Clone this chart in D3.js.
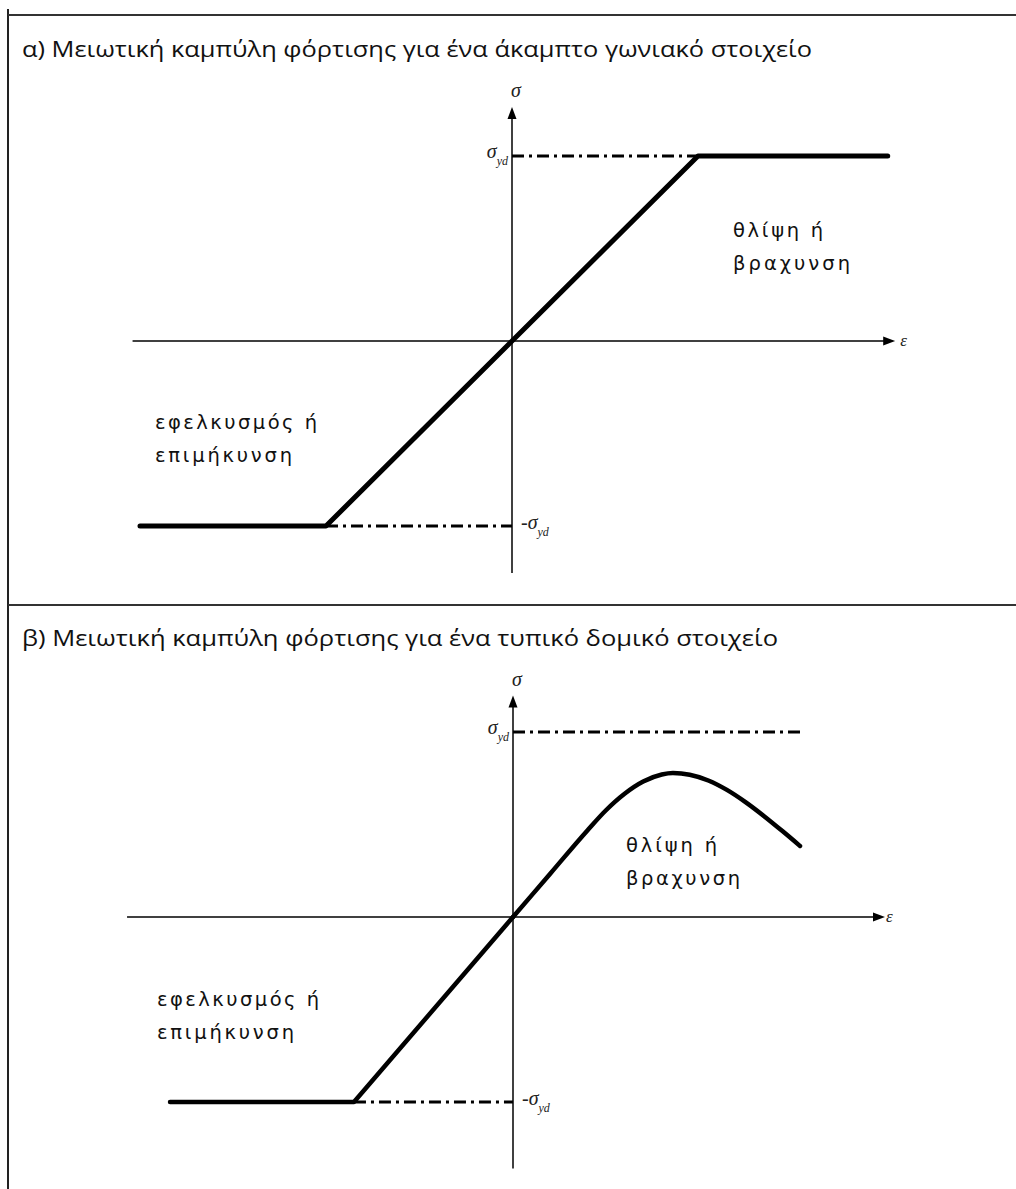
<!DOCTYPE html>
<html>
<head>
<meta charset="utf-8">
<script src="https://cdn.jsdelivr.net/npm/d3@7"></script>
<style>
  html, body { margin: 0; padding: 0; background: #fff; }
  svg { display: block; }
</style>
</head>
<body>
<svg id="fig" width="1016" height="1189"></svg>
<script>
// ---- Panel titles and region captions ----
const titles = [
  "α) Μειωτική καμπύλη φόρτισης για ένα άκαμπτο γωνιακό στοιχείο",
  "β) Μειωτική καμπύλη φόρτισης για ένα τυπικό δομικό στοιχείο"
];
const compressionLabel = ["θλίψη ή", "βραχυνση"];
const tensionLabel = ["εφελκυσμός ή", "επιμήκυνση"];

// ---- Panel (a): rigid corner element, elastic – perfectly plastic [ε/εyd, σ/σyd] ----
const curveA = [[-2.0, -1], [-1, -1], [0, 0], [1, 1], [2.02, 1]];
const epsAxisA = [-2.04, 2.06];
const sigAxisA = [-1.254, 1.265];
const yieldTopA = [0, 1];      // ε-span of the +σyd reference line
const yieldBotA = [-1, 0];     // ε-span of the −σyd reference line

// ---- Panel (b): typical structural element with buckling drop-off ----
const linearB = [[-1.844, -1], [-0.855, -1], [0, 0]];
const smoothB = [[0, 0], [0.2, 0.234], [0.4, 0.468], [0.5, 0.577], [0.6, 0.666], [0.7, 0.732],
                 [0.8, 0.77], [0.86, 0.778], [0.95, 0.769], [1.05, 0.738], [1.15, 0.687],
                 [1.25, 0.621], [1.35, 0.545], [1.45, 0.463], [1.543, 0.384]];
const epsAxisB = [-2.075, 2.0];
const sigAxisB = [-1.36, 1.197];
const yieldTopB = [0, 1.543];
const yieldBotB = [-0.855, 0];

const svg = d3.select("#fig");
const ink = "#000";
const dashDot = "12,5,3,5";

// frame: left rule, top rule and the divider between the two panels
svg.append("line").attr("x1", 8).attr("x2", 8).attr("y1", 9).attr("y2", 1189)
  .attr("stroke", "#222").attr("stroke-width", 2);
[15, 605].forEach(y => svg.append("line").attr("x1", 8).attr("x2", 1016)
  .attr("y1", y).attr("y2", y).attr("stroke", "#333").attr("stroke-width", 2.2));

function title(text, x, y, len) {
  svg.append("text").attr("x", x).attr("y", y)
    .attr("font-family", "Open Sans, sans-serif").attr("font-size", 22)
    .attr("fill", "#111").attr("textLength", len).attr("lengthAdjust", "spacingAndGlyphs")
    .text(text);
}
title(titles[0], 22, 57, 790);
title(titles[1], 22, 646, 756);

function caption(lines, x, y, lens) {
  lines.forEach((t, i) => svg.append("text").attr("x", x).attr("y", y + i * 33)
    .attr("font-family", "DejaVu Sans, sans-serif").attr("font-size", 19.5)
    .attr("fill", "#111").attr("textLength", lens[i]).attr("lengthAdjust", "spacing")
    .text(t));
}

function mathLabel(g, x, y, prefix, anchor) {
  const t = g.append("text").attr("x", x).attr("y", y).attr("text-anchor", anchor)
    .attr("font-family", "Liberation Serif, serif").attr("font-style", "italic")
    .attr("font-size", 20).attr("fill", "#222");
  t.append("tspan").text(prefix + "σ");
  t.append("tspan").attr("dy", 7).attr("font-size", 12).text("yd");
}

function panel(opts) {
  const { x, y, curves, epsAxis, sigAxis, yTop, yBot, lw, epsLabelDx } = opts;
  const g = svg.append("g");
  const line = d3.line().x(d => x(d[0])).y(d => y(d[1]));

  // axes
  g.append("line").attr("x1", x(epsAxis[0])).attr("x2", x(epsAxis[1]) - 10)
    .attr("y1", y(0)).attr("y2", y(0)).attr("stroke", ink).attr("stroke-width", 1.5);
  g.append("line").attr("x1", x(0)).attr("x2", x(0))
    .attr("y1", y(sigAxis[0])).attr("y2", y(sigAxis[1]) + 10)
    .attr("stroke", ink).attr("stroke-width", 1.5);
  const xt = x(epsAxis[1]), yt = y(sigAxis[1]);
  g.append("path").attr("d", `M${xt},${y(0)} L${xt - 12},${y(0) - 4.5} L${xt - 12},${y(0) + 4.5}Z`).attr("fill", ink);
  g.append("path").attr("d", `M${x(0)},${yt} L${x(0) - 4.5},${yt + 12} L${x(0) + 4.5},${yt + 12}Z`).attr("fill", ink);

  g.append("text").attr("x", x(0) + 4).attr("y", yt - 10).attr("text-anchor", "middle")
    .attr("font-family", "Liberation Serif, serif").attr("font-style", "italic")
    .attr("font-size", 20).attr("fill", "#222").text("σ");
  g.append("text").attr("x", xt + epsLabelDx).attr("y", y(0) + 5)
    .attr("font-family", "Liberation Serif, serif").attr("font-style", "italic")
    .attr("font-size", 17).attr("fill", "#222").text("ε");

  // yield reference lines (dash-dot)
  [[yTop, 1], [yBot, -1]].forEach(([span, s]) => g.append("path")
    .attr("d", line([[span[0], s], [span[1], s]]))
    .attr("stroke", ink).attr("stroke-width", 3).attr("stroke-dasharray", dashDot).attr("fill", "none"));
  mathLabel(g, x(0) - 4, y(1) + 2, "", "end");
  mathLabel(g, x(0) + 9, y(-1) + 3, "-", "start");

  // load–deformation curve
  curves.forEach(c => g.append("path")
    .attr("d", d3.line().x(d => x(d[0])).y(d => y(d[1])).curve(c.curve)(c.data))
    .attr("fill", "none").attr("stroke", ink).attr("stroke-width", lw)
    .attr("stroke-linecap", "round").attr("stroke-linejoin", "round"));
}

const xA = d3.scaleLinear().domain([-1, 1]).range([326, 698]);
const yA = d3.scaleLinear().domain([-1, 1]).range([526, 156]);
panel({ x: xA, y: yA, curves: [{ data: curveA, curve: d3.curveLinear }],
  epsAxis: epsAxisA, sigAxis: sigAxisA, yTop: yieldTopA, yBot: yieldBotA, lw: 5, epsLabelDx: 5 });
caption(compressionLabel, 733, 237, [90, 117]);
caption(tensionLabel, 155, 429, [162, 137]);

const xB = d3.scaleLinear().domain([-1, 1]).range([327, 699]);
const yB = d3.scaleLinear().domain([-1, 1]).range([1102, 732]);
panel({ x: xB, y: yB,
  curves: [{ data: linearB, curve: d3.curveLinear }, { data: smoothB, curve: d3.curveMonotoneX }],
  epsAxis: epsAxisB, sigAxis: sigAxisB, yTop: yieldTopB, yBot: yieldBotB, lw: 4.5, epsLabelDx: 1 });
caption(compressionLabel, 626, 852, [91, 114]);
caption(tensionLabel, 157, 1006, [162, 137]);
</script>
</body>
</html>
